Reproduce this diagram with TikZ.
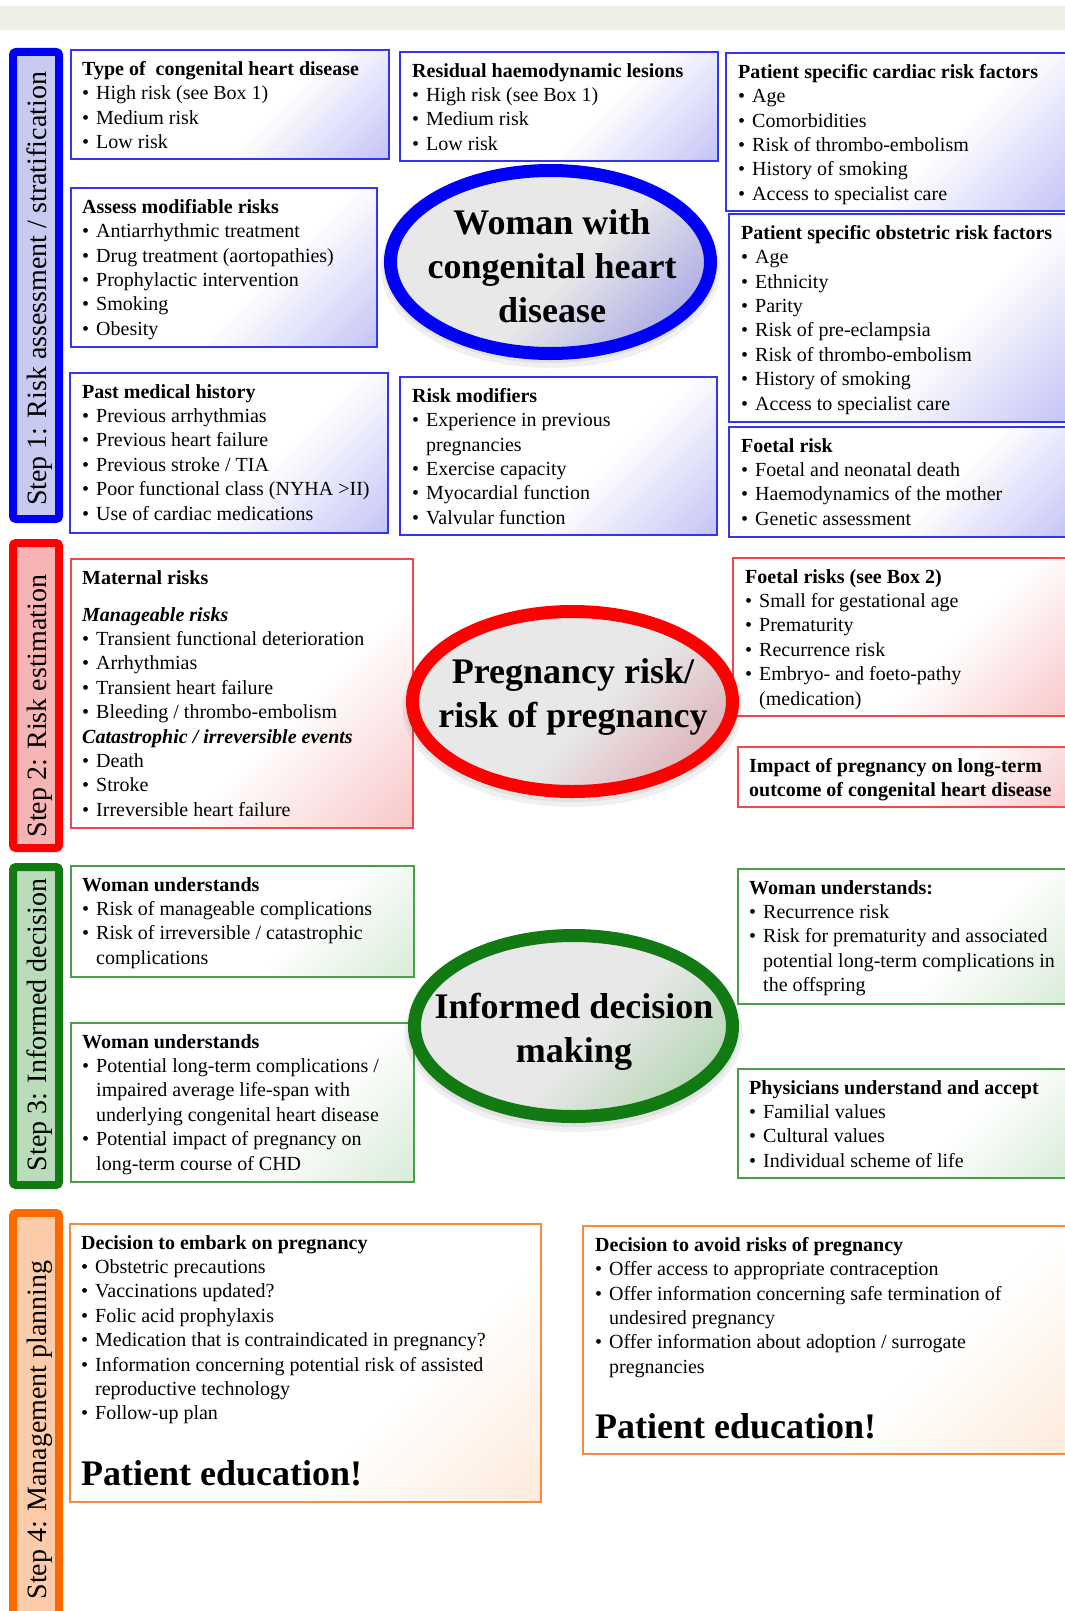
\documentclass[tikz,border=0pt]{standalone}
\usepackage{fontspec}
\setmainfont{Liberation Serif}

\definecolor{bandgray}{HTML}{EEEEE5}
\definecolor{sblue}{HTML}{0000FA}
\definecolor{bblue}{HTML}{3434F4}
\definecolor{fblue}{HTML}{C2C2F6}
\definecolor{barblue}{HTML}{C8CAF0}
\definecolor{eblue}{HTML}{A2A2E6}
\definecolor{sred}{HTML}{FF0000}
\definecolor{bred}{HTML}{F24848}
\definecolor{fred}{HTML}{F8C6C8}
\definecolor{barred}{HTML}{F6B4B4}
\definecolor{ered}{HTML}{DDAAB2}
\definecolor{sgreen}{HTML}{127A12}
\definecolor{bgreen}{HTML}{48A048}
\definecolor{fgreen}{HTML}{D6EBD6}
\definecolor{bargreen}{HTML}{BADCBA}
\definecolor{egreen}{HTML}{AED4AE}
\definecolor{sorange}{HTML}{FF6A00}
\definecolor{borange}{HTML}{F78A3C}
\definecolor{forange}{HTML}{FEE8D6}
\definecolor{barorange}{HTML}{FCCCAA}
\definecolor{egray}{HTML}{E8E8E8}

\pgfdeclarehorizontalshading{shblue}{100bp}{color(0bp)=(white); color(58bp)=(white); color(86bp)=(fblue); color(100bp)=(fblue)}
\pgfdeclarehorizontalshading{shred}{100bp}{color(0bp)=(white); color(58bp)=(white); color(86bp)=(fred); color(100bp)=(fred)}
\pgfdeclarehorizontalshading{shgreen}{100bp}{color(0bp)=(white); color(60bp)=(white); color(86bp)=(fgreen); color(100bp)=(fgreen)}
\pgfdeclarehorizontalshading{shorange}{100bp}{color(0bp)=(white); color(62bp)=(white); color(88bp)=(forange); color(100bp)=(forange)}
\pgfdeclarehorizontalshading{elblue}{100bp}{color(0bp)=(egray); color(54bp)=(egray); color(80bp)=(eblue); color(100bp)=(eblue)}
\pgfdeclarehorizontalshading{elred}{100bp}{color(0bp)=(egray); color(54bp)=(egray); color(80bp)=(ered); color(100bp)=(ered)}
\pgfdeclarehorizontalshading{elgreen}{100bp}{color(0bp)=(egray); color(54bp)=(egray); color(80bp)=(egreen); color(100bp)=(egreen)}

\newcommand{\bitem}[1]{\makebox[14pt][l]{\textbullet}#1}
\newcommand{\bcont}[1]{\hspace*{14pt}#1}

\tikzset{
  barpath/.style 2 args={draw=#1, fill=#2, line width=8pt, rounded corners=3pt},
  infobox/.style 2 args={draw=#1, line width=1.8pt, shading=#2, shading angle=-45},
  bigell/.style 2 args={draw=#1, line width=13pt, shading=#2, shading angle=-45},
  ellshadow/.style={fill=black, opacity=0.06},
  txt/.style={anchor=north west, inner sep=0pt, align=left, font=\fontsize{20}{24.4}\selectfont},
  steplbl/.style={rotate=90, inner sep=0pt, font=\fontsize{28}{34}\selectfont},
  elltxt/.style={inner sep=0pt, align=center, font=\fontsize{36}{44}\selectfont\bfseries},
  edu/.style={anchor=base west, inner sep=0pt, font=\fontsize{36}{44}\selectfont\bfseries},
}

\begin{document}
\begin{tikzpicture}[x=1pt,y=-1pt]
\useasboundingbox (0,0) rectangle (1065,1611);
\clip (0,0) rectangle (1065,1611);
\fill[white] (0,0) rectangle (1065,1611);
\fill[bandgray] (0,6) rectangle (1065,30);

% ---------- step bars ----------
\draw[barpath={sblue}{barblue}] (13,52) rectangle (59,519);
\draw[barpath={sred}{barred}] (13,543) rectangle (59,848);
\draw[barpath={sgreen}{bargreen}] (13,867) rectangle (59,1185);
\draw[barpath={sorange}{barorange}] (13,1213) rectangle (59,1630);

\node[steplbl] (s1) at (40,289) {Step 1: Risk assessment / stratification};
\node[steplbl] (s2) at (40,706) {Step 2: Risk estimation};
\node[steplbl] (s3) at (40,1025) {Step 3: Informed decision};
\node[steplbl] (s4) at (40,1430) {Step 4: Management planning};

% ---------- Step 1 ----------
\shadedraw[infobox={bblue}{shblue}] (71,50) rectangle (389,159);
\node[txt] (tA) at (82,61) {\textbf{Type of\ \ congenital heart disease}\\
\bitem{High risk (see Box 1)}\\ \bitem{Medium risk}\\ \bitem{Low risk}};

\shadedraw[infobox={bblue}{shblue}] (400,52) rectangle (718,161);
\node[txt] (tB) at (412,63) {\textbf{Residual haemodynamic lesions}\\
\bitem{High risk (see Box 1)}\\ \bitem{Medium risk}\\ \bitem{Low risk}};

\shadedraw[infobox={bblue}{shblue}] (726,53) rectangle (1070,211);
\node[txt] (tC) at (738,64) {\textbf{Patient specific cardiac risk factors}\\
\bitem{Age}\\ \bitem{Comorbidities}\\ \bitem{Risk of thrombo-embolism}\\
\bitem{History of smoking}\\ \bitem{Access to specialist care}};

\shadedraw[infobox={bblue}{shblue}] (71,188) rectangle (377,347);
\node[txt] (tD) at (82,199) {\textbf{Assess modifiable risks}\\
\bitem{Antiarrhythmic treatment}\\ \bitem{Drug treatment (aortopathies)}\\
\bitem{Prophylactic intervention}\\ \bitem{Smoking}\\ \bitem{Obesity}};

\shadedraw[infobox={bblue}{shblue}] (729,214) rectangle (1070,422);
\node[txt] (tE) at (741,225) {\textbf{Patient specific obstetric risk factors}\\
\bitem{Age}\\ \bitem{Ethnicity}\\ \bitem{Parity}\\ \bitem{Risk of pre-eclampsia}\\
\bitem{Risk of thrombo-embolism}\\ \bitem{History of smoking}\\ \bitem{Access to specialist care}};

\shadedraw[infobox={bblue}{shblue}] (70,373) rectangle (388,533);
\node[txt] (tF) at (82,384) {\textbf{Past medical history}\\
\bitem{Previous arrhythmias}\\ \bitem{Previous heart failure}\\
\bitem{Previous stroke / TIA}\\ \bitem{Poor functional class (NYHA >II)}\\
\bitem{Use of cardiac medications}};

\shadedraw[infobox={bblue}{shblue}] (400,377) rectangle (717,535);
\node[txt] (tG) at (412,388) {\textbf{Risk modifiers}\\
\bitem{Experience in previous}\\ \bcont{pregnancies}\\ \bitem{Exercise capacity}\\
\bitem{Myocardial function}\\ \bitem{Valvular function}};

\shadedraw[infobox={bblue}{shblue}] (729,427) rectangle (1070,537);
\node[txt] (tH) at (741,438) {\textbf{Foetal risk}\\
\bitem{Foetal and neonatal death}\\ \bitem{Haemodynamics of the mother}\\
\bitem{Genetic assessment}};

\fill[ellshadow] (550.5,268) ellipse [x radius=170pt, y radius=100pt];
\fill[ellshadow] (550.5,266) ellipse [x radius=167pt, y radius=97pt];
\shadedraw[bigell={sblue}{elblue}] (550.5,262) ellipse [x radius=160pt, y radius=91.5pt];
\node[elltxt] (e1) at (552,266) {Woman with\\ congenital heart\\ disease};

% ---------- Step 2 ----------
\shadedraw[infobox={bred}{shred}] (71,559) rectangle (413,828);
\node[txt] (tI) at (82,570) {\textbf{Maternal risks}\\[12.6pt]
\textbf{\textit{Manageable risks}}\\
\bitem{Transient functional deterioration}\\ \bitem{Arrhythmias}\\
\bitem{Transient heart failure}\\ \bitem{Bleeding / thrombo-embolism}\\
\textbf{\textit{Catastrophic / irreversible events}}\\
\bitem{Death}\\ \bitem{Stroke}\\ \bitem{Irreversible heart failure}};

\shadedraw[infobox={bred}{shred}] (733,558) rectangle (1070,716);
\node[txt] (tJ) at (745,569) {\textbf{Foetal risks (see Box 2)}\\
\bitem{Small for gestational age}\\ \bitem{Prematurity}\\ \bitem{Recurrence risk}\\
\bitem{Embryo- and foeto-pathy}\\ \bcont{(medication)}};

\shadedraw[infobox={bred}{shred}] (738,747) rectangle (1070,807);
\node[txt] (tK) at (749,758) {\textbf{Impact of pregnancy on long-term}\\
\textbf{outcome of congenital heart disease}};

\fill[ellshadow] (572.5,708) ellipse [x radius=170pt, y radius=99pt];
\fill[ellshadow] (572.5,706) ellipse [x radius=167pt, y radius=96pt];
\shadedraw[bigell={sred}{elred}] (572.5,701.5) ellipse [x radius=160pt, y radius=90pt];
\node[elltxt] (e2) at (573,697) {Pregnancy risk/\\ risk of pregnancy};

% ---------- Step 3 ----------
\shadedraw[infobox={bgreen}{shgreen}] (71,866) rectangle (414,977);
\node[txt] (tL) at (82,877) {\textbf{Woman understands}\\
\bitem{Risk of manageable complications}\\ \bitem{Risk of irreversible / catastrophic}\\
\bcont{complications}};

\shadedraw[infobox={bgreen}{shgreen}] (738,869) rectangle (1070,1004);
\node[txt] (tM) at (749,880) {\textbf{Woman understands:}\\
\bitem{Recurrence risk}\\ \bitem{Risk for prematurity and associated}\\
\bcont{potential long-term complications in}\\ \bcont{the offspring}};

\shadedraw[infobox={bgreen}{shgreen}] (71,1023) rectangle (414,1182);
\node[txt] (tN) at (82,1034) {\textbf{Woman understands}\\
\bitem{Potential long-term complications /}\\ \bcont{impaired average life-span with}\\
\bcont{underlying congenital heart disease}\\ \bitem{Potential impact of pregnancy on}\\
\bcont{long-term course of CHD}};

\shadedraw[infobox={bgreen}{shgreen}] (738,1069) rectangle (1070,1178);
\node[txt] (tO) at (749,1080) {\textbf{Physicians understand and accept}\\
\bitem{Familial values}\\ \bitem{Cultural values}\\ \bitem{Individual scheme of life}};

\fill[ellshadow] (573.5,1033) ellipse [x radius=169pt, y radius=99pt];
\fill[ellshadow] (573.5,1031) ellipse [x radius=166pt, y radius=96pt];
\shadedraw[bigell={sgreen}{elgreen}] (573.5,1026) ellipse [x radius=159pt, y radius=90.5pt];
\node[elltxt] (e3) at (574,1032) {Informed decision\\ making};

% ---------- Step 4 ----------
\shadedraw[infobox={borange}{shorange}] (70,1224) rectangle (541,1502);
\node[txt] (tP) at (81,1235) {\textbf{Decision to embark on pregnancy}\\
\bitem{Obstetric precautions}\\ \bitem{Vaccinations updated?}\\
\bitem{Folic acid prophylaxis}\\ \bitem{Medication that is contraindicated in pregnancy?}\\
\bitem{Information concerning potential risk of assisted}\\ \bcont{reproductive technology}\\
\bitem{Follow-up plan}};
\node[edu] (pe1) at (81,1485) {Patient education!};

\shadedraw[infobox={borange}{shorange}] (583,1226) rectangle (1070,1454);
\node[txt] (tQ) at (595,1237) {\textbf{Decision to avoid risks of pregnancy}\\
\bitem{Offer access to appropriate contraception}\\
\bitem{Offer information concerning safe termination of}\\ \bcont{undesired pregnancy}\\
\bitem{Offer information about adoption / surrogate}\\ \bcont{pregnancies}};
\node[edu] (pe2) at (595,1438) {Patient education!};
\end{tikzpicture}
\end{document}
